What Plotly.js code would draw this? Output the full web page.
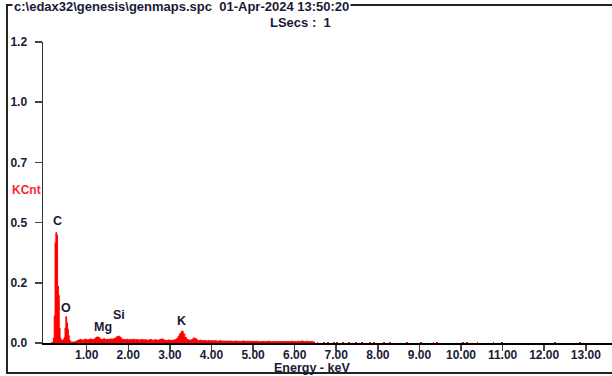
<!DOCTYPE html>
<html>
<head>
<meta charset="utf-8">
<script src="https://cdn.plot.ly/plotly-3.0.1.min.js"></script>
<style>
  html, body { margin: 0; padding: 0; background: #fff; }
  #chart { width: 612px; height: 376px; }
</style>
</head>
<body>
<div id="chart"></div>
<script>
// EDS spectrum, genmaps.spc — counts (KCnt) per energy channel (keV)

// Low-energy region, 0.02 keV channels
const lowEnergy = [0.14, 0.16, 0.18, 0.20, 0.22, 0.24, 0.26, 0.28, 0.30, 0.32,
                   0.34, 0.36, 0.38, 0.40, 0.42, 0.44, 0.46, 0.48, 0.50, 0.52,
                   0.54, 0.56, 0.58, 0.60, 0.62, 0.64, 0.66, 0.68, 0.70, 0.72,
                   0.74, 0.76, 0.78];
const lowCounts = [0.000, 0.002, 0.004, 0.020, 0.108, 0.400, 0.440, 0.430, 0.227, 0.190,
                   0.060, 0.020, 0.012, 0.010, 0.012, 0.014, 0.022, 0.060, 0.105, 0.080,
                   0.055, 0.030, 0.012, 0.006, 0.004, 0.003, 0.004, 0.003, 0.005, 0.004,
                   0.006, 0.009, 0.011];

// Continuum and K line, 0.04 keV channels from 0.80 keV
const midStart = 0.80;
const midStep = 0.04;
const midCounts = [
  // 0.80 – 1.16
  0.012, 0.014, 0.011, 0.013, 0.015, 0.012, 0.014, 0.016, 0.013, 0.015,
  // 1.20 – 1.32 (Mg)
  0.020, 0.024, 0.021, 0.015,
  // 1.36 – 1.64
  0.014, 0.017, 0.013, 0.015, 0.014, 0.016, 0.015, 0.017,
  // 1.68 – 1.84 (Si)
  0.020, 0.025, 0.027, 0.021, 0.015,
  // 1.88 – 3.12
  0.014, 0.013, 0.015, 0.012, 0.014, 0.013, 0.015, 0.012, 0.014, 0.011,
  0.013, 0.014, 0.012, 0.013, 0.011, 0.012, 0.014, 0.011, 0.012, 0.013,
  0.011, 0.012, 0.015, 0.016, 0.012, 0.011, 0.010, 0.012, 0.011, 0.010,
  0.012, 0.013,
  // 3.16 – 3.40 (K)
  0.018, 0.028, 0.039, 0.047, 0.036, 0.022, 0.014,
  // 3.44 – 4.00
  0.012, 0.011, 0.014, 0.020, 0.017, 0.012, 0.010, 0.011, 0.009, 0.010,
  0.009, 0.008, 0.010, 0.008, 0.009,
  // 4.04 – 5.00
  0.008, 0.009, 0.007, 0.008, 0.009, 0.007, 0.008, 0.007, 0.008, 0.007,
  0.008, 0.007, 0.006, 0.008, 0.007, 0.007, 0.006, 0.007, 0.008, 0.006,
  0.007, 0.007, 0.006, 0.007, 0.006,
  // 5.04 – 6.00
  0.006, 0.007, 0.006, 0.005, 0.006, 0.006, 0.005, 0.006, 0.007, 0.005,
  0.006, 0.005, 0.006, 0.006, 0.005, 0.006, 0.005, 0.006, 0.005, 0.006,
  0.006, 0.005, 0.007, 0.005, 0.006,
  // 6.04 – 6.48
  0.005, 0.007, 0.005, 0.008, 0.006, 0.005, 0.007, 0.005, 0.006, 0.005,
  0.004, 0.000
];

// Isolated counts at high energy
const highEnergy = [6.55, 6.70, 6.80, 6.95, 7.02, 7.17, 7.30, 7.48, 7.62, 7.81,
                    7.90, 8.15, 8.30, 8.70, 9.03, 9.34, 9.42, 10.04, 10.15, 10.40,
                    10.78, 10.98, 12.26, 12.86];
const highCounts = [0.006, 0.005, 0.006, 0.005, 0.006, 0.005, 0.006, 0.006, 0.005, 0.006,
                    0.005, 0.006, 0.005, 0.006, 0.006, 0.005, 0.005, 0.006, 0.006, 0.005,
                    0.006, 0.005, 0.006, 0.006];

// Axis ticks
const xTickVals = [1, 2, 3, 4, 5, 6, 7, 8, 9, 10, 11, 12, 13];
const xTickText = ['1.00', '2.00', '3.00', '4.00', '5.00', '6.00', '7.00',
                   '8.00', '9.00', '10.00', '11.00', '12.00', '13.00'];
const yTickVals = [0, 0.24, 0.48, 0.72, 0.96, 1.2];
const yTickText = ['0.0', '0.2', '0.5', '0.7', '1.0', '1.2'];

// Element line labels
const peakNames = ['C', 'O', 'Mg', 'Si', 'K'];
const peakEnergy = [0.298, 0.510, 1.397, 1.772, 3.280];
const peakLabelHeight = [0.488, 0.141, 0.064, 0.111, 0.089];

// Header text
const fileLine = 'c:\\edax32\\genesis\\genmaps.spc\u00a0\u00a001-Apr-2024 13:50:20';
const liveLine = 'LSecs :\u00a0\u00a01';
const xTitle = 'Energy - keV';
const yTitle = 'KCnt';

// Assemble the full channel list
const energy = lowEnergy.slice();
const counts = lowCounts.slice();
midCounts.forEach((c, i) => {
  energy.push(+(midStart + i * midStep).toFixed(2));
  counts.push(c);
});

const textColor = '#1a1a36';
const fontFam = '"Liberation Sans", Arial, sans-serif';
const redSpec = '#ff0000';

const traces = [
  {
    type: 'scatter',
    mode: 'lines',
    x: energy,
    y: counts,
    line: { shape: 'hv', color: redSpec, width: 1 },
    fill: 'tozeroy',
    fillcolor: redSpec,
    hoverinfo: 'skip'
  },
  {
    type: 'bar',
    x: highEnergy,
    y: highCounts,
    width: 0.04,
    marker: { color: redSpec, line: { width: 0 } },
    hoverinfo: 'skip'
  }
];

const annotations = peakNames.map((name, i) => ({
  x: peakEnergy[i], y: peakLabelHeight[i], xref: 'x', yref: 'y',
  text: name, showarrow: false,
  font: { family: fontFam, size: 12.5, color: textColor, weight: 'bold' }
}));

annotations.push(
  {
    xref: 'paper', yref: 'paper', x: -0.0545, y: 1.117,
    xanchor: 'left', yanchor: 'middle', text: fileLine, showarrow: false,
    bgcolor: '#ffffff', borderpad: 1,
    font: { family: fontFam, size: 13, color: textColor, weight: 'bold' }
  },
  {
    xref: 'paper', yref: 'paper', x: 0.4517, y: 1.0664,
    xanchor: 'center', yanchor: 'middle', text: liveLine, showarrow: false,
    font: { family: fontFam, size: 13, color: textColor, weight: 'bold' }
  },
  {
    xref: 'paper', yref: 'paper', x: -0.058, y: 0.508,
    xanchor: 'left', yanchor: 'middle', text: yTitle, showarrow: false,
    font: { family: fontFam, size: 12, color: '#ff2a2a', weight: 'bold' }
  },
  {
    xref: 'paper', yref: 'paper', x: 0.473, y: -0.082,
    xanchor: 'center', yanchor: 'middle', text: xTitle, showarrow: false,
    font: { family: fontFam, size: 12.5, color: textColor, weight: 'bold' }
  }
);

const layout = {
  width: 612,
  height: 376,
  margin: { l: 43, r: 0, t: 42, b: 33, pad: 0 },
  paper_bgcolor: '#ffffff',
  plot_bgcolor: '#ffffff',
  showlegend: false,
  bargap: 0,
  xaxis: {
    range: [-0.05, 13.63],
    tickmode: 'array',
    tickvals: xTickVals,
    ticktext: xTickText,
    ticks: 'outside',
    ticklen: 6,
    tickwidth: 1.5,
    tickcolor: '#444',
    ticklabelstandoff: -6,
    showline: true,
    linecolor: '#000',
    linewidth: 2,
    showgrid: false,
    zeroline: false,
    tickfont: { family: fontFam, size: 12, color: textColor, weight: 'bold' }
  },
  yaxis: {
    range: [0, 1.2],
    tickmode: 'array',
    tickvals: yTickVals,
    ticktext: yTickText,
    ticks: 'outside',
    ticklen: 7,
    tickwidth: 1.5,
    tickcolor: '#444',
    ticklabelstandoff: 5,
    showline: true,
    linecolor: '#333',
    linewidth: 1.5,
    showgrid: false,
    zeroline: false,
    tickfont: { family: fontFam, size: 12, color: textColor, weight: 'bold' }
  },
  shapes: [
    {
      type: 'rect', xref: 'paper', yref: 'paper',
      x0: -0.0633, x1: 1.01, y0: -0.0997, y1: 1.123,
      line: { color: '#222', width: 2 }, layer: 'below'
    }
  ],
  annotations: annotations
};

Plotly.newPlot('chart', traces, layout, { displayModeBar: false, staticPlot: true });
</script>
</body>
</html>
